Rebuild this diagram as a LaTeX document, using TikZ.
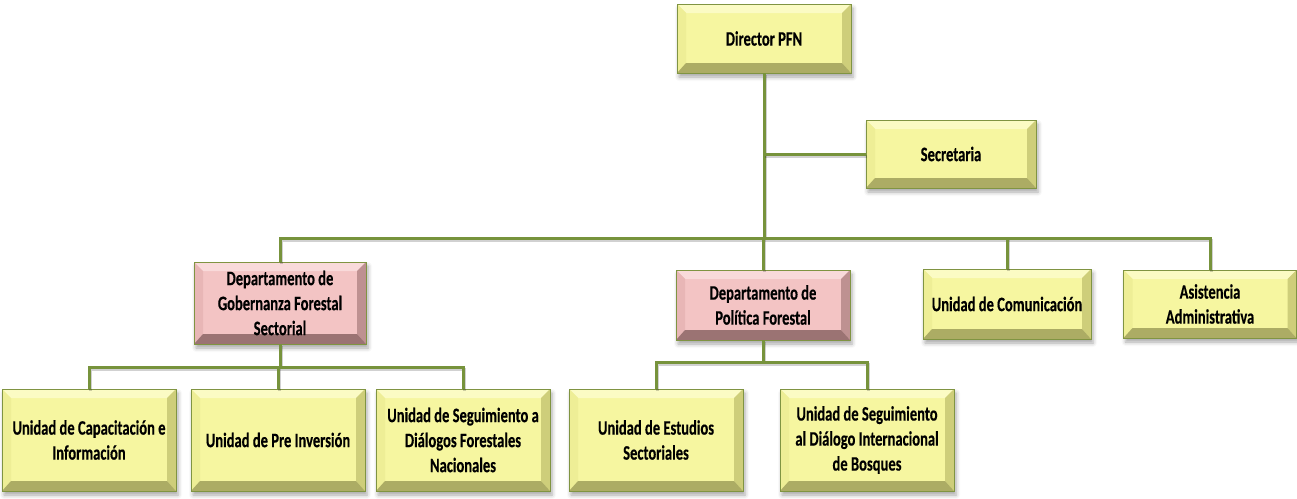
\documentclass[tikz,border=0pt]{standalone}
\usepackage{fontspec}
\setmainfont{Carlito}[FakeStretch=0.71, BoldFeatures={FakeBold=0.3}]
\usetikzlibrary{shadows.blur}

\definecolor{linkgreen}{RGB}{119,147,60}
\definecolor{rimgreen}{RGB}{128,148,66}
% yellow boxes: face, top, left, right, bottom bevels
\definecolor{yface}{RGB}{246,246,160}
\definecolor{ytop}{RGB}{251,251,196}
\definecolor{yleft}{RGB}{238,238,150}
\definecolor{yright}{RGB}{206,206,122}
\definecolor{ybottom}{RGB}{172,172,100}
% pink boxes
\definecolor{pface}{RGB}{243,196,196}
\definecolor{ptop}{RGB}{249,218,218}
\definecolor{pleft}{RGB}{232,182,182}
\definecolor{pright}{RGB}{190,145,145}
\definecolor{pbottom}{RGB}{155,115,115}

\tikzset{
  x=1pt, y=1pt,
  bevelbox/.style n args={5}{
    draw=rimgreen, line width=0.8pt, fill=#1,
    inner sep=0pt, outer sep=0pt, align=center,
    font=\bfseries\fontsize{20.5}{25}\selectfont,
    blur shadow={shadow xshift=2pt, shadow yshift=-4pt,
                 shadow blur radius=4pt, shadow opacity=35},
    path picture={
      \path (path picture bounding box.south west) coordinate (pA)
            (path picture bounding box.north east) coordinate (pC);
      \path (pA -| pC) coordinate (pB) (pA |- pC) coordinate (pD);
      \fill[#2] (pD) -- (pC) -- ([shift={(-9pt,-9pt)}]pC) -- ([shift={(9pt,-9pt)}]pD) -- cycle;
      \fill[#3] (pD) -- ([shift={(9pt,-9pt)}]pD) -- ([shift={(9pt,10pt)}]pA) -- (pA) -- cycle;
      \fill[#4] (pC) -- (pB) -- ([shift={(-9pt,10pt)}]pB) -- ([shift={(-9pt,-9pt)}]pC) -- cycle;
      \fill[#5] (pA) -- (pB) -- ([shift={(-9pt,10pt)}]pB) -- ([shift={(9pt,10pt)}]pA) -- cycle;
    }
  },
  ybox/.style={bevelbox={yface}{ytop}{yleft}{yright}{ybottom}},
  pbox/.style={bevelbox={pface}{ptop}{pleft}{pright}{pbottom}},
  conn/.style={draw=linkgreen, line width=3pt,
    preaction={draw=black, draw opacity=0.18, line width=3pt,
               transform canvas={xshift=1pt, yshift=-2pt}}},
}

\begin{document}
\begin{tikzpicture}
\useasboundingbox (0,0) rectangle (1297,-498);

% top level
\node[ybox, minimum width=174, minimum height=69] (dir) at (764,-38.5) {Director PFN};
\node[ybox, minimum width=170, minimum height=68] (sec) at (951,-154) {Secretaria};

% departments and units
\node[pbox, minimum width=172, minimum height=82] (gob) at (280,-303) {Departamento de\\Gobernanza Forestal\\Sectorial};
\node[pbox, minimum width=174, minimum height=70] (pol) at (763,-305) {Departamento de\\Política Forestal};
\node[ybox, minimum width=168, minimum height=70] (com) at (1007,-304) {Unidad de Comunicación};
\node[ybox, minimum width=173, minimum height=68] (asi) at (1210,-304) {Asistencia\\Administrativa};

% bottom row
\node[ybox, minimum width=174, minimum height=102] (cap) at (89,-440) {Unidad de Capacitación e\\Información};
\node[ybox, minimum width=174, minimum height=102] (pre) at (278,-440) {Unidad de Pre Inversión};
\node[ybox, minimum width=174, minimum height=102] (sda) at (463,-440) {Unidad de Seguimiento a\\Diálogos Forestales\\Nacionales};
\node[ybox, minimum width=174, minimum height=102] (est) at (656,-440) {Unidad de Estudios\\Sectoriales};
\node[ybox, minimum width=174, minimum height=102] (sdi) at (867,-440) {Unidad de Seguimiento\\al Diálogo Internacional\\de Bosques};

% bus levels
\coordinate (mainbus) at (0,-238);
\coordinate (gobbus) at (0,-367);
\coordinate (polbus) at (0,-362);

% connectors
\draw[conn] (dir.south) -- (dir.south |- mainbus);
\draw[conn] (sec.west) -- (sec.west -| dir.south);
\draw[conn] (gob.north) |- (asi.north |- mainbus) -- (asi.north);
\draw[conn] (pol.north) -- (pol.north |- mainbus);
\draw[conn] (com.north) -- (com.north |- mainbus);

\draw[conn] (gob.south) -- (gob.south |- gobbus);
\draw[conn] (cap.north) |- (sda.north |- gobbus) -- (sda.north);
\draw[conn] (pre.north) -- (pre.north |- gobbus);

\draw[conn] (pol.south) -- (pol.south |- polbus);
\draw[conn] (est.north) |- (sdi.north |- polbus) -- (sdi.north);
\end{tikzpicture}
\end{document}
